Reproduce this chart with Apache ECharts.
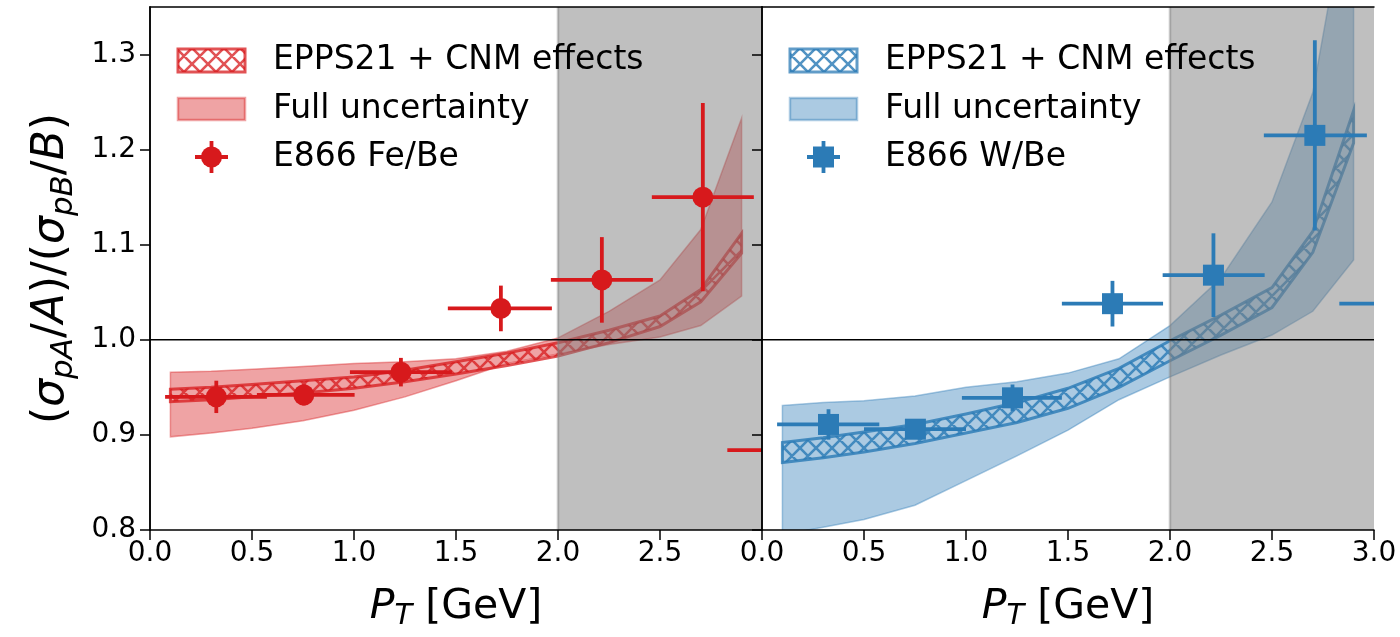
<!DOCTYPE html>
<html><head><meta charset="utf-8">
<script src="https://cdn.jsdelivr.net/npm/echarts@6/dist/echarts.min.js"></script>
<style>html,body{margin:0;padding:0;background:#fff}#c{width:1400px;height:637px}</style>
</head><body><div id="c"></div>
<script>
// ---------- data ----------
const xTickValues = [0, 0.5, 1.0, 1.5, 2.0, 2.5, 3.0];
const xLabelValuesLeft = [0, 0.5, 1.0, 1.5, 2.0, 2.5];
const yTickValues = [0.8, 0.9, 1.0, 1.1, 1.2, 1.3];
const shadeRange = [2.0, 3.0];
const refLine = 1.0;

const modelX    = [0.1, 0.3, 0.5, 0.75, 1.0, 1.25, 1.5, 1.75, 2.0, 2.25, 2.5, 2.7, 2.9];
// Fe/Be (left)
const feFullLo  = [0.898, 0.902, 0.907, 0.915, 0.926, 0.940, 0.957, 0.975, 0.985, 0.995, 1.003, 1.015, 1.046];
const feFullHi  = [0.966, 0.967, 0.969, 0.972, 0.975, 0.977, 0.980, 0.988, 1.002, 1.030, 1.063, 1.116, 1.233];
const feHatchLo = [0.935, 0.937, 0.940, 0.944, 0.949, 0.956, 0.964, 0.973, 0.983, 0.997, 1.014, 1.040, 1.091];
const feHatchHi = [0.948, 0.950, 0.953, 0.957, 0.961, 0.968, 0.977, 0.986, 0.997, 1.010, 1.025, 1.053, 1.112];
// W/Be (right)
const wFullLo   = [0.795, 0.803, 0.811, 0.826, 0.852, 0.878, 0.905, 0.937, 0.961, 0.984, 1.005, 1.030, 1.084];
const wFullHi   = [0.931, 0.934, 0.936, 0.941, 0.950, 0.956, 0.965, 0.980, 1.015, 1.065, 1.145, 1.260, 1.500];
const wHatchLo  = [0.871, 0.876, 0.882, 0.891, 0.902, 0.913, 0.928, 0.950, 0.978, 1.005, 1.034, 1.092, 1.207];
const wHatchHi  = [0.892, 0.897, 0.903, 0.911, 0.922, 0.934, 0.949, 0.970, 0.999, 1.026, 1.055, 1.114, 1.241];

// E866 Fe/Be data points
const feX    = [0.325, 0.754, 1.23, 1.72, 2.215, 2.71, 3.20];
const feY    = [0.940, 0.942, 0.966, 1.033, 1.063, 1.150, 0.884];
const feXLo  = [0.074, 0.524, 0.98, 1.46, 1.965, 2.46, 2.83];
const feXHi  = [0.573, 1.003, 1.48, 1.97, 2.465, 2.96, 3.50];
const feYErr = [0.017, 0.011, 0.015, 0.024, 0.045, 0.099, 0.030];
// E866 W/Be data points
const wX     = [0.326, 0.752, 1.228, 1.718, 2.213, 2.71, 3.20];
const wY     = [0.911, 0.906, 0.939, 1.038, 1.068, 1.215, 1.038];
const wXLo   = [0.074, 0.500, 0.980, 1.470, 1.964, 2.46, 2.83];
const wXHi   = [0.575, 1.000, 1.470, 1.966, 2.464, 2.965, 3.50];
const wYErr  = [0.016, 0.010, 0.014, 0.024, 0.044, 0.100, 0.030];

const legendLabelsLeft  = ['EPPS21 + CNM effects', 'Full uncertainty', 'E866 Fe/Be'];
const legendLabelsRight = ['EPPS21 + CNM effects', 'Full uncertainty', 'E866 W/Be'];

// ---------- styles ----------
const RED = '#d7191c', BLUE = '#2c7bb6';
const FONT = 'DejaVu Sans';
const EW = 3.8;
function rgba(hex, a){const n=parseInt(hex.slice(1),16);return `rgba(${n>>16&255},${n>>8&255},${n&255},${a})`;}
function hatch(color, size, lw){
  const c=document.createElement('canvas'); c.width=size; c.height=size;
  const g=c.getContext('2d'); g.strokeStyle=color; g.lineWidth=lw; g.lineCap='square';
  g.beginPath();
  for (const k of [-size, 0, size]) {
    g.moveTo(k, 0); g.lineTo(k+size, size);
    g.moveTo(k+size, 0); g.lineTo(k, size);
  }
  g.stroke();
  return {image:c, repeat:'repeat'};
}
const redHatch = hatch(rgba(RED,0.75), 16, 2.6);
const blueHatch = hatch(rgba(BLUE,0.82), 16, 2.6);

function bandSeries(gi, xs, lo, hi, style, z){
  return {type:'custom', xAxisIndex:gi, yAxisIndex:gi, clip:true, z, silent:true,
    data:[[xs[0], lo[0]]], encode:{x:0, y:1},
    renderItem:(p, api)=>{
      const pts=[];
      for(let i=0;i<xs.length;i++) pts.push(api.coord([xs[i], hi[i]]));
      for(let i=xs.length-1;i>=0;i--) pts.push(api.coord([xs[i], lo[i]]));
      return {type:'polygon', shape:{points:pts}, style};
    }};
}
function shadeSeries(gi, z){
  return {type:'custom', xAxisIndex:gi, yAxisIndex:gi, clip:true, z, silent:true,
    data:[[shadeRange[0], refLine]], encode:{x:0,y:1},
    renderItem:(p, api)=>{
      const a=api.coord([shadeRange[0], 2]), b=api.coord([shadeRange[1], 0]);
      return {type:'group', children:[
        {type:'rect', shape:{x:a[0], y:a[1], width:b[0]-a[0], height:b[1]-a[1]}, style:{fill:'rgba(128,128,128,0.5)'}},
        {type:'line', shape:{x1:a[0], y1:a[1], x2:a[0], y2:b[1]}, style:{stroke:'rgba(128,128,128,0.45)', lineWidth:2.5}}
      ]};
    }};
}
function hlineSeries(gi, z){
  return {type:'custom', xAxisIndex:gi, yAxisIndex:gi, clip:true, z, silent:true,
    data:[[0, refLine]], encode:{x:0,y:1},
    renderItem:(p, api)=>{
      const a=api.coord([0, refLine]), b=api.coord([3, refLine]);
      return {type:'line', shape:{x1:a[0], y1:a[1], x2:b[0], y2:b[1]}, style:{stroke:'#000', lineWidth:1.5}};
    }};
}
function errSeries(gi, X, Y, XLo, XHi, YErr, color, z){
  return {type:'custom', xAxisIndex:gi, yAxisIndex:gi, clip:true, z, silent:true,
    data: X.map((x,i)=>[x, Y[i], XLo[i], XHi[i], YErr[i]]), encode:{x:0, y:1},
    renderItem:(p, api)=>{
      const x=api.value(0), y=api.value(1), xl=api.value(2), xh=api.value(3), e=api.value(4);
      const a=api.coord([xl,y]), b=api.coord([xh,y]), c=api.coord([x,y+e]), d=api.coord([x,y-e]);
      return {type:'group', children:[
        {type:'line', shape:{x1:a[0],y1:a[1],x2:b[0],y2:b[1]}, style:{stroke:color, lineWidth:EW}},
        {type:'line', shape:{x1:c[0],y1:c[1],x2:d[0],y2:d[1]}, style:{stroke:color, lineWidth:EW}}
      ]};
    }};
}
function markerSeries(gi, X, Y, symbol, color, z){
  return {type:'scatter', xAxisIndex:gi, yAxisIndex:gi, z, silent:true, clip:true,
    symbol, symbolSize:21, itemStyle:{color, opacity:1},
    data: X.map((x,i)=>[x, Y[i]])};
}

const fmt1 = v => (Math.abs(v*10-Math.round(v*10))<1e-6) ? v.toFixed(1) : '';
const spine = {show:true, lineStyle:{color:'#000', width:1.5}};
function xAxisMain(gi, labelVals){
  return {type:'value', gridIndex:gi, min:0, max:3, interval:0.5, position:'bottom', z:10,
    axisLine:spine, splitLine:{show:false},
    axisTick:{show:true, length:10, lineStyle:{color:'#000', width:1.5}, customValues:xTickValues},
    axisLabel:{show:true, margin:10, fontSize:28, color:'#000', fontFamily:FONT, formatter:fmt1, customValues:labelVals},
    name:'{it|P}{sub|T}{n| [GeV]}', nameLocation:'middle', nameGap:53,
    nameTextStyle:{fontFamily:FONT, color:'#000', rich:{
      it:{fontSize:41, fontStyle:'italic', fontFamily:FONT, color:'#000', lineHeight:48, verticalAlign:'middle'},
      sub:{fontSize:29, fontStyle:'italic', fontFamily:FONT, color:'#000', lineHeight:27, verticalAlign:'bottom'},
      n:{fontSize:41, fontFamily:FONT, color:'#000', lineHeight:48, verticalAlign:'middle'}}}};
}
function yAxisMain(gi, withLabels){
  const ax = {type:'value', gridIndex:gi, min:0.8, max:1.35, interval:0.1, position:'left', z:10,
    axisLine:spine, splitLine:{show:false},
    axisTick:{show:true, length:10, lineStyle:{color:'#000', width:1.5}, customValues:yTickValues},
    axisLabel:{show:withLabels, margin:14, fontSize:28, color:'#000', fontFamily:FONT, formatter:fmt1, customValues:yTickValues}};
  if (withLabels) {
    ax.name = '{b|(}{it|σ}{sub|pA}{b|/}{it|A}{b|)/(}{it|σ}{sub|pB}{b|/}{it|B}{b|)}';
    ax.nameLocation = 'middle'; ax.nameGap = 71; ax.nameRotate = 90;
    ax.nameTextStyle = {fontFamily:FONT, color:'#000', rich:{
      b:{fontSize:44, fontFamily:FONT, color:'#000', lineHeight:54, verticalAlign:'middle'},
      it:{fontSize:44, fontStyle:'italic', fontFamily:FONT, color:'#000', lineHeight:54, verticalAlign:'middle'},
      sub:{fontSize:31, fontStyle:'italic', fontFamily:FONT, color:'#000', lineHeight:31, verticalAlign:'bottom'}}};
  }
  return ax;
}
function frameX(gi){ return {type:'value', gridIndex:gi, min:0, max:3, position:'top', z:10, axisLine:spine, axisTick:{show:false}, axisLabel:{show:false}, splitLine:{show:false}}; }
function frameY(gi){ return {type:'value', gridIndex:gi, min:0.8, max:1.35, position:'right', z:10, axisLine:spine, axisTick:{show:false}, axisLabel:{show:false}, splitLine:{show:false}}; }

// ---------- legend (graphic) ----------
function legend(dx, color, fullFill, hatchPat, labels, symbol){
  const els = [
    {type:'rect', shape:{x:178+dx, y:49, width:67, height:23}, style:{fill:hatchPat, stroke:rgba(color,0.75), lineWidth:3}},
    {type:'rect', shape:{x:178+dx, y:98, width:67, height:22}, style:{fill:fullFill, stroke:rgba(color,0.4), lineWidth:2.5}},
    {type:'line', shape:{x1:195+dx, y1:157, x2:228+dx, y2:157}, style:{stroke:color, lineWidth:EW}},
    {type:'line', shape:{x1:211.5+dx, y1:141, x2:211.5+dx, y2:173}, style:{stroke:color, lineWidth:EW}},
    symbol==='circle'
      ? {type:'circle', shape:{cx:211.5+dx, cy:157, r:10.5}, style:{fill:color}}
      : {type:'rect', shape:{x:201+dx, y:146.5, width:21, height:21}, style:{fill:color}}
  ];
  const ys=[60, 109, 157];
  labels.forEach((t,i)=>els.push({type:'text', x:273+dx, y:ys[i], style:{text:t, font:`33px "${FONT}"`, fill:'#000', verticalAlign:'middle', align:'left'}}));
  return els.map(e=>Object.assign(e, {z:100, silent:true}));
}

const option = {
  animation:false,
  backgroundColor:'#fff',
  grid:[
    {left:150, top:7, width:612, height:523, containLabel:false, outerBoundsMode:'none'},
    {left:762, top:7, width:612, height:523, containLabel:false, outerBoundsMode:'none'}
  ],
  xAxis:[xAxisMain(0, xLabelValuesLeft), xAxisMain(1, xTickValues), frameX(0), frameX(1)],
  yAxis:[yAxisMain(0, true), yAxisMain(1, false), frameY(0), frameY(1)],
  series:[
    bandSeries(0, modelX, feFullLo, feFullHi, {fill:rgba(RED,0.4), stroke:rgba(RED,0.4), lineWidth:1.5}, 1),
    bandSeries(0, modelX, feHatchLo, feHatchHi, {fill:redHatch, stroke:rgba(RED,0.75), lineWidth:3}, 2),
    shadeSeries(0, 3),
    hlineSeries(0, 4),
    errSeries(0, feX, feY, feXLo, feXHi, feYErr, RED, 5),
    markerSeries(0, feX, feY, 'circle', RED, 6),
    bandSeries(1, modelX, wFullLo, wFullHi, {fill:rgba(BLUE,0.4), stroke:rgba(BLUE,0.4), lineWidth:1.5}, 1),
    bandSeries(1, modelX, wHatchLo, wHatchHi, {fill:blueHatch, stroke:rgba(BLUE,0.82), lineWidth:3}, 2),
    shadeSeries(1, 3),
    hlineSeries(1, 4),
    errSeries(1, wX, wY, wXLo, wXHi, wYErr, BLUE, 5),
    markerSeries(1, wX, wY, 'rect', BLUE, 6)
  ],
  graphic:{elements:[
    ...legend(0, RED, rgba(RED,0.4), redHatch, legendLabelsLeft, 'circle'),
    ...legend(612, BLUE, rgba(BLUE,0.4), blueHatch, legendLabelsRight, 'rect')
  ]}
};
const chart = echarts.init(document.getElementById('c'), null, {renderer:'canvas', width:1400, height:637});
chart.setOption(option);
</script></body></html>
